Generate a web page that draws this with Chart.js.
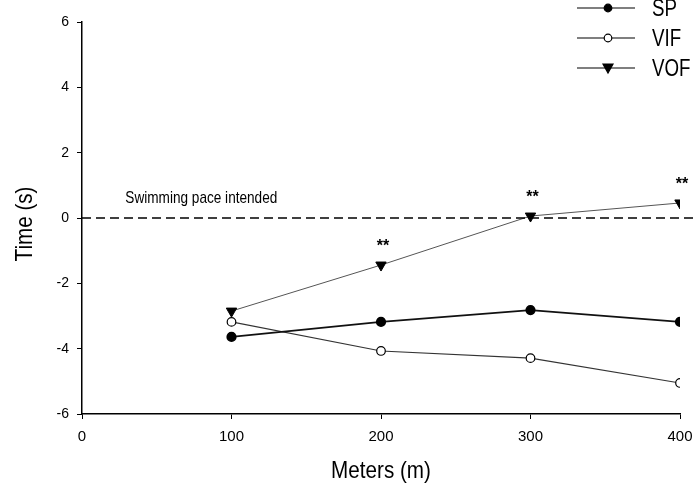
<!DOCTYPE html>
<html>
<head>
<meta charset="utf-8">
<script src="https://cdn.jsdelivr.net/npm/chart.js@4/dist/chart.umd.min.js"></script>
<style>
  html, body { margin: 0; padding: 0; background: #fff; }
  #wrap { width: 693px; height: 489px; position: relative; }
</style>
</head>
<body>
<div id="wrap"><canvas id="paceChart"></canvas></div>
<script>
// distances (m)
const meters = [100, 200, 300, 400];
// time difference vs intended pace (s)
const spValues = [-3.64, -3.18, -2.82, -3.18];
const vifValues = [-3.18, -4.07, -4.29, -5.05];
const vofValues = [-2.85, -1.44, 0.06, 0.46];
// significance marks over VOF
const vofMarks = ['', '**', '**', '**'];
const yTicks = [-6, -4, -2, 0, 2, 4, 6];
const xTicks = [0, 100, 200, 300, 400];
const seriesNames = ['SP', 'VIF', 'VOF'];

const sans = "'Liberation Sans', Arial, sans-serif";

const toPoints = vals => meters.map((m, i) => ({ x: m, y: vals[i] }));

// condensed-looking text: squeeze a regular face horizontally
function narrowText(ctx, text, x, y, size, align, squeeze) {
  const k = squeeze || 0.8;
  ctx.save();
  ctx.font = size + 'px ' + sans;
  ctx.translate(x, y);
  ctx.scale(k, 1);
  ctx.textAlign = align;
  ctx.fillText(text, 0, 0);
  ctx.restore();
}

const extras = {
  id: 'extras',
  afterDatasetsDraw(chart) {
    const ctx = chart.ctx;
    const xs = chart.scales.x, ys = chart.scales.y;
    const area = chart.chartArea;
    const y0 = ys.getPixelForValue(0);

    ctx.save();
    // intended pace
    ctx.strokeStyle = '#000';
    ctx.lineWidth = 1.3;
    ctx.setLineDash([9, 5]);
    ctx.beginPath();
    ctx.moveTo(area.left, y0);
    ctx.lineTo(chart.width, y0);
    ctx.stroke();
    ctx.setLineDash([]);

    ctx.fillStyle = '#000';
    ctx.textBaseline = 'alphabetic';
    narrowText(ctx, 'Swimming pace intended', xs.getPixelForValue(29), y0 - 15, 17, 'left', 0.8);

    // asterisks
    ctx.font = 'bold 16px ' + sans;
    ctx.textAlign = 'center';
    const meta = chart.getDatasetMeta(2);
    meta.data.forEach((pt, i) => {
      if (vofMarks[i]) ctx.fillText(vofMarks[i], pt.x + 2, pt.y - 14);
    });

    // axis titles
    ctx.textBaseline = 'middle';
    narrowText(ctx, 'Meters (m)', (area.left + area.right) / 2, 471, 24, 'center', 0.86);
    ctx.save();
    ctx.translate(25, (area.top + area.bottom) / 2 + 6);
    ctx.rotate(-Math.PI / 2);
    narrowText(ctx, 'Time (s)', 0, 0, 24, 'center', 0.86);
    ctx.restore();

    // legend
    const lx1 = 577, lx2 = 635;
    seriesNames.forEach((name, i) => {
      const ds = chart.data.datasets[i];
      const ly = 8 + i * 30;
      ctx.strokeStyle = '#000';
      ctx.lineWidth = 1.2;
      ctx.beginPath();
      ctx.moveTo(lx1, ly);
      ctx.lineTo(lx2, ly);
      ctx.stroke();
      const cx = (lx1 + lx2) / 2 + 2;
      ctx.fillStyle = ds.pointBackgroundColor;
      ctx.beginPath();
      if (ds.pointStyle === 'triangle') {
        ctx.moveTo(cx - 5, ly - 4);
        ctx.lineTo(cx + 5, ly - 4);
        ctx.lineTo(cx, ly + 5);
        ctx.closePath();
      } else {
        ctx.arc(cx, ly, 3.8, 0, Math.PI * 2);
      }
      ctx.fill();
      ctx.stroke();
      ctx.fillStyle = '#000';
      ctx.textBaseline = 'middle';
      narrowText(ctx, name, 652, ly + 1, 24, 'left', 0.78);
    });
    ctx.restore();
  }
};

new Chart(document.getElementById('paceChart'), {
  type: 'line',
  data: {
    datasets: [
      {
        label: seriesNames[0],
        data: toPoints(spValues),
        borderColor: '#111',
        borderWidth: 1.6,
        pointStyle: 'circle',
        pointRadius: 4.3,
        pointBackgroundColor: '#000',
        pointBorderColor: '#000',
        tension: 0
      },
      {
        label: seriesNames[1],
        data: toPoints(vifValues),
        borderColor: '#333',
        borderWidth: 1.1,
        pointStyle: 'circle',
        pointRadius: 4.3,
        pointBackgroundColor: '#fff',
        pointBorderColor: '#000',
        pointBorderWidth: 1.2,
        tension: 0
      },
      {
        label: seriesNames[2],
        data: toPoints(vofValues),
        borderColor: '#555',
        borderWidth: 1,
        pointStyle: 'triangle',
        pointRotation: 180,
        pointRadius: 6,
        pointBackgroundColor: '#000',
        pointBorderColor: '#000',
        tension: 0
      }
    ]
  },
  options: {
    responsive: true,
    maintainAspectRatio: false,
    animation: false,
    layout: { padding: { top: 22, right: 13, left: 0, bottom: 0 } },
    plugins: {
      legend: { display: false },
      tooltip: { enabled: false }
    },
    scales: {
      x: {
        type: 'linear',
        min: 0,
        max: 400,
        afterBuildTicks: s => { s.ticks = xTicks.map(v => ({ value: v })); },
        afterFit: s => { s.height = 75; s.paddingLeft = 0; s.paddingRight = 0; },
        border: { display: true, color: '#000', width: 1.5 },
        grid: { drawOnChartArea: false, color: '#000', tickLength: 5 },
        ticks: { color: '#000', font: { family: sans, size: 15 }, padding: 9, maxRotation: 0 }
      },
      y: {
        min: -6,
        max: 6,
        afterBuildTicks: s => { s.ticks = yTicks.map(v => ({ value: v })); },
        afterFit: s => { s.width = 82; },
        border: { display: true, color: '#000', width: 1.5 },
        grid: { drawOnChartArea: false, color: '#000', tickLength: 5 },
        ticks: { color: '#000', font: { family: sans, size: 14 }, padding: 8 }
      }
    }
  },
  plugins: [extras]
});
</script>
</body>
</html>
